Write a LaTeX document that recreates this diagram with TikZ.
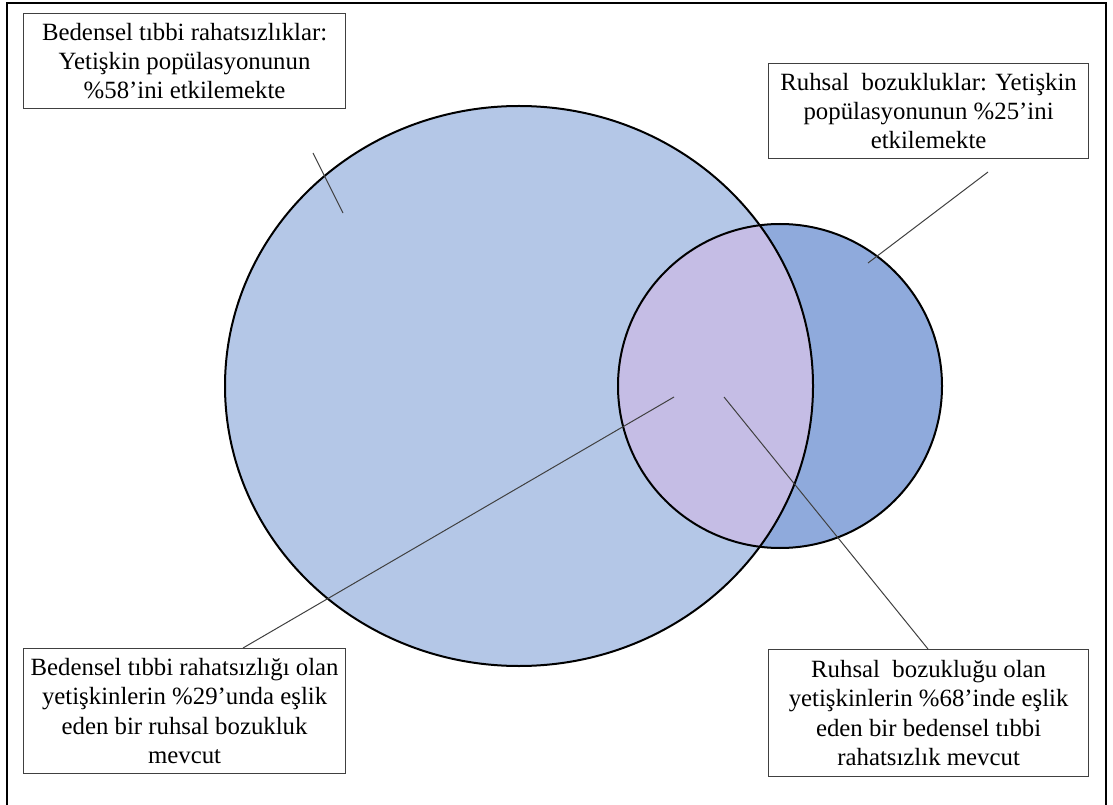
\documentclass[tikz,border=0pt]{standalone}
\usepackage{fontspec}
\setmainfont{Liberation Serif}
\definecolor{bigfill}{HTML}{B4C7E7}
\definecolor{smallfill}{HTML}{8FAADC}
\definecolor{bothfill}{HTML}{C5BDE5}
\definecolor{boxline}{HTML}{404040}
\begin{document}
\begin{tikzpicture}[x=0.75pt,y=-0.75pt,
  lbl/.style={draw=boxline,line width=0.9pt,fill=white,anchor=north west,align=center,
    inner sep=0pt,font=\fontsize{18.6}{22}\selectfont},
  venn/.style={draw=black,line width=1.5pt},
  lead/.style={draw=black!75,line width=0.75pt}]
\useasboundingbox (0,0) rectangle (1113,805);
% frame
\draw[line width=1.5pt] (7,810) -- (7,3) -- (1106,3) -- (1106,810);
% circles
\fill[bigfill] (519,386) ellipse [x radius=294, y radius=280];
\fill[smallfill] (780,386) circle [radius=162];
\begin{scope}
  \clip (519,386) ellipse [x radius=294, y radius=280];
  \fill[bothfill] (780,386) circle [radius=162];
\end{scope}
\draw[venn] (519,386) ellipse [x radius=294, y radius=280];
\draw[venn] (780,386) circle [radius=162];
% labels
\node[lbl,minimum width=241.5pt,minimum height=71.25pt] (b1) at (23,13)
  {Bedensel tıbbi rahatsızlıklar:\\Yetişkin popülasyonunun\\\%58’ini etkilemekte};
\node[lbl,minimum width=240pt,minimum height=71.25pt] (b2) at (768,63)
  {Ruhsal~ bozukluklar: Yetişkin\\popülasyonunun \%25’ini\\etkilemekte};
\node[lbl,minimum width=241.5pt,minimum height=93.75pt] (b3) at (23,648)
  {Bedensel tıbbi rahatsızlığı olan\\yetişkinlerin \%29’unda eşlik\\eden bir ruhsal bozukluk\\mevcut};
\node[lbl,minimum width=240pt,minimum height=95.25pt] (b4) at (768,649)
  {Ruhsal~ bozukluğu olan\\yetişkinlerin \%68’inde eşlik\\eden bir bedensel tıbbi\\rahatsızlık mevcut};
% leader lines
\coordinate (l1a) at (313,153);
\coordinate (l1b) at (343,213);
\coordinate (l2a) at (988,172);
\coordinate (l2b) at (868,263);
\coordinate (l3a) at (243,648);
\coordinate (l3b) at (674,397);
\coordinate (l4a) at (724,397);
\coordinate (l4b) at (928,649);
\draw[lead] (l1a) -- (l1b);
\draw[lead] (l2a) -- (l2b);
\draw[lead] (l3a) -- (l3b);
\draw[lead] (l4a) -- (l4b);
\end{tikzpicture}
\end{document}
